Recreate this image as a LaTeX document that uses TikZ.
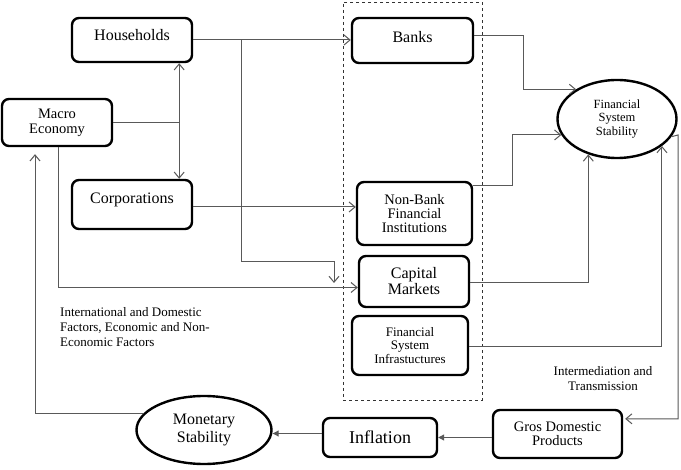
\documentclass[tikz,border=0pt]{standalone}
\usepackage{fontspec}
\setmainfont{Liberation Serif}
\usetikzlibrary{arrows.meta,shapes.geometric,calc}
\newcommand{\upby}[2]{\raisebox{0pt}[\height][\dimexpr\depth+#1\relax]{#2}}
\begin{document}
\begin{tikzpicture}[x=1pt,y=-1pt,
 box/.style={draw=black,line width=2.4pt,rounded corners=7pt,align=center,inner sep=0pt},
 ell/.style={draw=black,line width=2.4pt,ellipse,align=center,inner sep=0pt},
 conn/.style={draw=black!65,line width=1pt},
 arr/.style={conn,-{Straight Barb[length=6pt,width=10pt]}},
 arrs/.style={conn,{Straight Barb[length=6pt,width=10pt]}-{Straight Barb[length=6pt,width=10pt]}},
 farr/.style={conn,-{Triangle[length=6pt,width=6pt]}},
 lbl/.style={inner sep=0pt}]
\useasboundingbox (0,0) rectangle (681,470);
\fill[white] (0,0) rectangle (681,470);

% group
\node[draw=black!80,dashed,line width=0.8pt,minimum width=139pt,minimum height=398pt,inner sep=0pt] (grp) at (412.5,201) {};

% nodes
\node[box,minimum width=120pt,minimum height=44pt,font=\fontsize{16}{16}\selectfont] (hh) at (132,40) {\upby{9pt}{Households}};
\node[box,minimum width=110pt,minimum height=47pt,font=\fontsize{14.5}{15}\selectfont] (macro) at (57,122.5) {Macro\\Economy};
\node[box,minimum width=120pt,minimum height=49pt,font=\fontsize{16}{16}\selectfont] (corp) at (132,204.5) {\upby{10pt}{Corporations}};
\node[box,minimum width=121pt,minimum height=45pt,font=\fontsize{16}{16}\selectfont] (banks) at (412.5,40.5) {\upby{6pt}{Banks}};
\node[box,minimum width=115pt,minimum height=63pt,font=\fontsize{14.5}{14}\selectfont] (nbfi) at (414.5,213.5) {Non-Bank\\Financial\\Institutions};
\node[box,minimum width=110pt,minimum height=51pt,font=\fontsize{16}{16}\selectfont] (cap) at (414,281.5) {Capital\\Markets};
\node[box,minimum width=116pt,minimum height=59pt,font=\fontsize{13}{13.5}\selectfont] (fsi) at (410,345.5) {Financial\\System\\Infrastuctures};
\node[ell,minimum width=119pt,minimum height=78pt,font=\fontsize{12.5}{13.5}\selectfont] (fss) at (617,119) {Financial\\System\\Stability};
\node[ell,minimum width=135pt,minimum height=68pt,font=\fontsize{16}{18}\selectfont] (mon) at (204,430) {Monetary\\Stability};
\node[box,minimum width=114pt,minimum height=39pt,font=\fontsize{18}{18}\selectfont] (infl) at (380,437.5) {Inflation};
\node[box,minimum width=129pt,minimum height=48pt,font=\fontsize{14.5}{13.5}\selectfont] (gdp) at (557.5,434) {Gros Domestic\\Products};

% labels
\node[lbl,anchor=north west,align=left,font=\fontsize{13}{15}\selectfont] (factors) at (60,307) {International and Domestic\\Factors, Economic and Non-\\Economic Factors};
\node[lbl,align=center,font=\fontsize{13}{15}\selectfont] (interm) at (603,379) {Intermediation and\\Transmission};

% coordinates
\coordinate (split) at (241,40);
\coordinate (capdrop) at (334,283);
\coordinate (hhc) at ($(hh.south east)+(-14,0)$);
\coordinate (corpc) at ($(corp.north east)+(-14,0)$);
\coordinate (corpout) at ($(corp.east)+(0,2.5)$);
\coordinate (fssout) at (678,135);
\coordinate (gdpin) at ($(gdp.north east)+(2,10)$);
\coordinate (infa) at ($(infl.west)+(0,-4)$);

% connectors
\draw[arr] (hh.east) -- (hh.east -| banks.west);
\draw[arr] (split) |- ($(capdrop)+(0,-21)$) -- (capdrop);
\draw[arrs] (hhc) -- (corpc);
\draw[conn] (macro.east) -- (macro.east -| hhc);
\draw[arr] (corpout) -- (corpout -| nbfi.west);
\draw[arr] ($(macro.south)+(1,0)$) |- ($(cap.west)+(0,6)$);
\draw[arr] (mon.165) -| ($(macro.south)+(-22,7)$);
\draw[arr] ($(banks.east)+(0,-5)$) -- ++(49,0) |- (fss.144);
\draw[arr] ($(nbfi.north east)+(0,5)$) -- ++(39,0) |- (fss.196);
\draw[arr] ($(cap.east)+(0,1.5)$) -| (fss.231);
\draw[arr] ($(fsi.east)+(0,1.5)$) -| (fss.329);
\draw[arr] (fss.342) -- (fssout) |- (gdpin);
\draw[farr] (gdp.west |- infl.east) -- (infl.east);
\draw[farr] (infa) -- (infa -| mon.east);
\end{tikzpicture}
\end{document}
